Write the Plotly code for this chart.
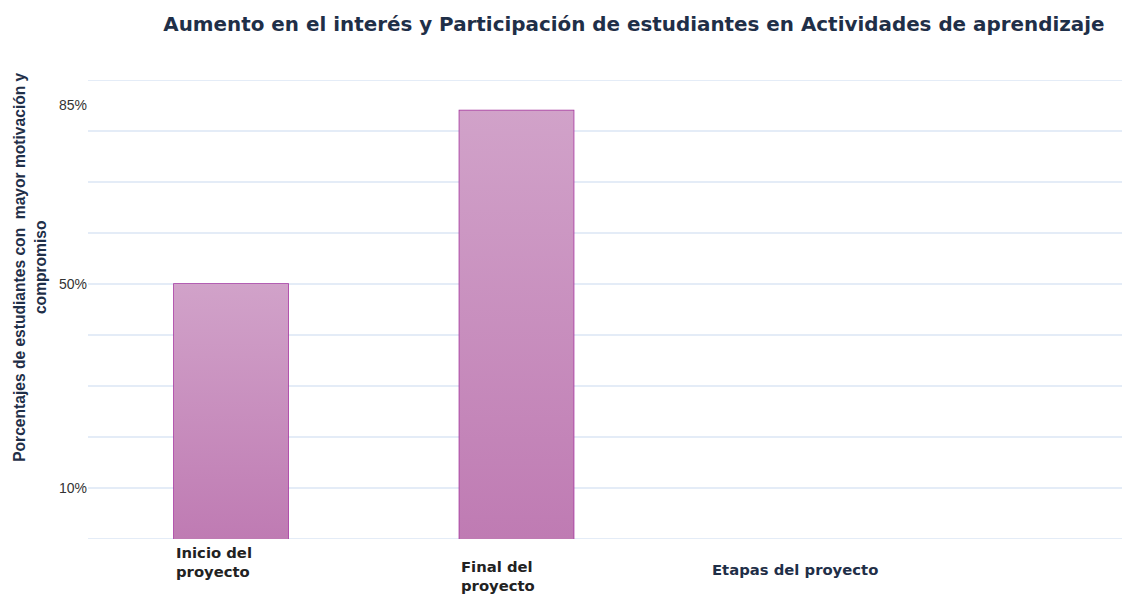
import plotly.graph_objects as go

categories = ["Inicio del proyecto", "Final del proyecto"]
category_labels = ["Inicio del<br>proyecto", "Final del<br>proyecto"]
values = [50, 84]
tick_values = [10, 50, 85]
tick_labels = ["10%", "50%", "85%"]

title = "Aumento en el interés y Participación de estudiantes en Actividades de aprendizaje"
y_title = "Porcentajes de estudiantes con  mayor motivación y<br>compromiso"
x_title = "Etapas del proyecto"

bar_width = 0.4
navy = "#1f2f48"
wide_font = "DejaVu Sans, Verdana, sans-serif"

fig = go.Figure()

# gradient fills for bars (derived from data values)
for i, v in enumerate(values):
    x0, x1 = i - bar_width / 2, i + bar_width / 2
    fig.add_trace(go.Scatter(
        x=[x0, x1, x1, x0, x0], y=[0, 0, v, v, 0],
        mode="lines", fill="toself", line=dict(width=0, color="rgba(0,0,0,0)"),
        fillgradient=dict(type="vertical",
                          colorscale=[[0, "#bf7bb3"], [1, "#d1a2c9"]]),
        hoverinfo="skip", showlegend=False,
    ))

fig.add_trace(go.Bar(
    x=list(range(len(values))), y=values, width=bar_width,
    marker=dict(color="rgba(0,0,0,0)", line=dict(color="#a3309d", width=1.5)),
    hovertext=categories, showlegend=False,
))

# category labels
label_y = [-0.006, -0.036]
for i, lab in enumerate(category_labels):
    fig.add_annotation(
        x=i - bar_width / 2, y=label_y[i], xref="x", yref="paper",
        text=lab, showarrow=False, xanchor="left", yanchor="top", align="left",
        font=dict(family=wide_font, size=14.8, color="#222222", weight="bold"),
    )

fig.add_annotation(
    x=1.975, y=-0.067, xref="x", yref="paper", text=x_title, showarrow=False,
    xanchor="center", yanchor="middle",
    font=dict(family=wide_font, size=14.8, color=navy, weight="bold"),
)

# y-axis title (offset upward like the reference)
fig.add_annotation(
    x=-0.056, y=0.591, xref="paper", yref="paper", text=y_title, showarrow=False,
    textangle=-90, xanchor="center", yanchor="middle", align="center",
    font=dict(family="Liberation Sans, Arial", size=15.6, color=navy, weight="bold"),
)

fig.update_layout(
    width=1122, height=595,
    margin=dict(l=88, r=0, t=80, b=56),
    paper_bgcolor="white", plot_bgcolor="white",
    title=dict(text=title, x=0.565, xanchor="center", y=0.96, yanchor="middle",
               font=dict(family=wide_font, size=19.9, color=navy, weight="bold")),
    xaxis=dict(range=[-0.501, 3.121], showticklabels=False, showgrid=False,
               zeroline=False, showline=False, fixedrange=True),
    yaxis=dict(range=[0, 90], tickvals=tick_values, ticktext=tick_labels,
               showgrid=False, zeroline=False, showline=False,
               tickfont=dict(family="Liberation Sans, Arial", size=14, color="#333333"),
               ticklabelstandoff=0),
)

# gridlines every 10 units
for g in range(0, 91, 10):
    fig.add_shape(type="line", xref="paper", yref="y", x0=0, x1=1, y0=g, y1=g,
                  line=dict(color="#dbe6f4", width=1.5), layer="below")

fig.write_html("out.html", config={"displayModeBar": False},
               post_script="document.body.style.margin='0';")
